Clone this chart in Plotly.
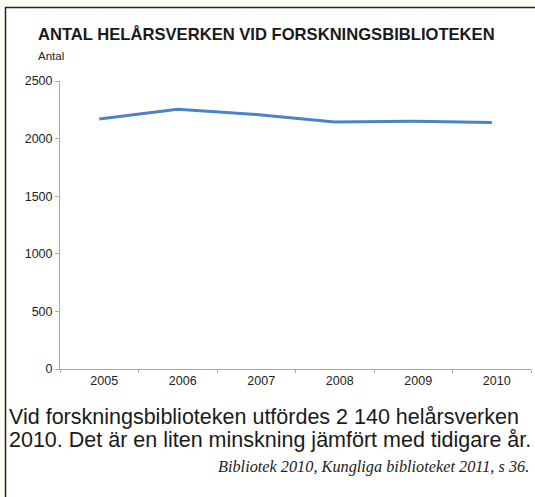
import plotly.graph_objects as go

years = ["2005", "2006", "2007", "2008", "2009", "2010"]
values = [2170, 2255, 2210, 2145, 2150, 2140]
y_ticks = [0, 500, 1000, 1500, 2000, 2500]

title_text = "ANTAL HELÅRSVERKEN VID FORSKNINGSBIBLIOTEKEN"
unit_text = "Antal"
body_lines = ["Vid forskningsbiblioteken utfördes 2 140 helårsverken",
              "2010. Det är en liten minskning jämfört med tidigare år."]
source_text = "Bibliotek 2010, Kungliga biblioteket 2011, s 36."

W, H = 535, 497
L, R, T, B = 60, 4, 81, 128
PW, PH = W - L - R, H - T - B


def px(x):
    return (x - L) / PW


def py(y):
    return (H - B - y) / PH


fig = go.Figure()
fig.add_trace(go.Scatter(
    x=years, y=values, mode="lines",
    line=dict(color="#4a84c4", width=3),
    hoverinfo="skip", showlegend=False,
))

sans = "Liberation Sans, Arial, sans-serif"

fig.update_layout(
    width=W, height=H,
    margin=dict(l=L, r=R, t=T, b=B),
    paper_bgcolor="#fffdf2",
    plot_bgcolor="rgba(0,0,0,0)",
    font=dict(family=sans, color="#222222"),
    xaxis=dict(
        type="category", range=[-0.5, 5.5],
        showgrid=False, zeroline=False,
        showline=True, linecolor="#aaaaaa", linewidth=1,
        ticks="outside", tickson="boundaries", ticklen=3, tickcolor="#aaaaaa",
        tickfont=dict(size=12.5, color="#222222"), ticklabelshift=5,
    ),
    yaxis=dict(
        range=[0, 2500], tickvals=y_ticks,
        showgrid=False, zeroline=False,
        showline=True, linecolor="#aaaaaa", linewidth=1,
        ticks="outside", ticklen=4, tickcolor="#aaaaaa",
        tickfont=dict(size=12.5, color="#222222"),
    ),
    shapes=[dict(
        type="rect", xref="paper", yref="paper", layer="below",
        x0=px(5.5), x1=px(W + 10), y0=py(7.5), y1=py(H + 10),
        line=dict(color="#222222", width=1.5), fillcolor="#ffffff",
    )],
    annotations=[
        dict(text="<b>" + title_text + "</b>", xref="paper", yref="paper",
             x=px(36), y=py(35), xanchor="left", yanchor="middle",
             showarrow=False, font=dict(size=16.6, family=sans, color="#1a1a1a")),
        dict(text=unit_text, xref="paper", yref="paper",
             x=px(36), y=py(56), xanchor="left", yanchor="middle",
             showarrow=False, font=dict(size=11.5, family=sans, color="#222222")),
        dict(text=body_lines[0], xref="paper", yref="paper",
             x=px(7), y=py(417), xanchor="left", yanchor="middle",
             showarrow=False, font=dict(size=21.5, family=sans, color="#1a1a1a")),
        dict(text=body_lines[1], xref="paper", yref="paper",
             x=px(7), y=py(440), xanchor="left", yanchor="middle",
             showarrow=False, font=dict(size=21.5, family=sans, color="#1a1a1a")),
        dict(text="<i>" + source_text + "</i>", xref="paper", yref="paper",
             x=px(531), y=py(466), xanchor="right", yanchor="middle",
             showarrow=False, font=dict(size=16.3, family="Liberation Serif, serif", color="#222222")),
    ],
)

fig.write_html("out.html", config={"displayModeBar": False},
               post_script="document.body.style.margin='0';document.body.style.overflow='hidden';")
